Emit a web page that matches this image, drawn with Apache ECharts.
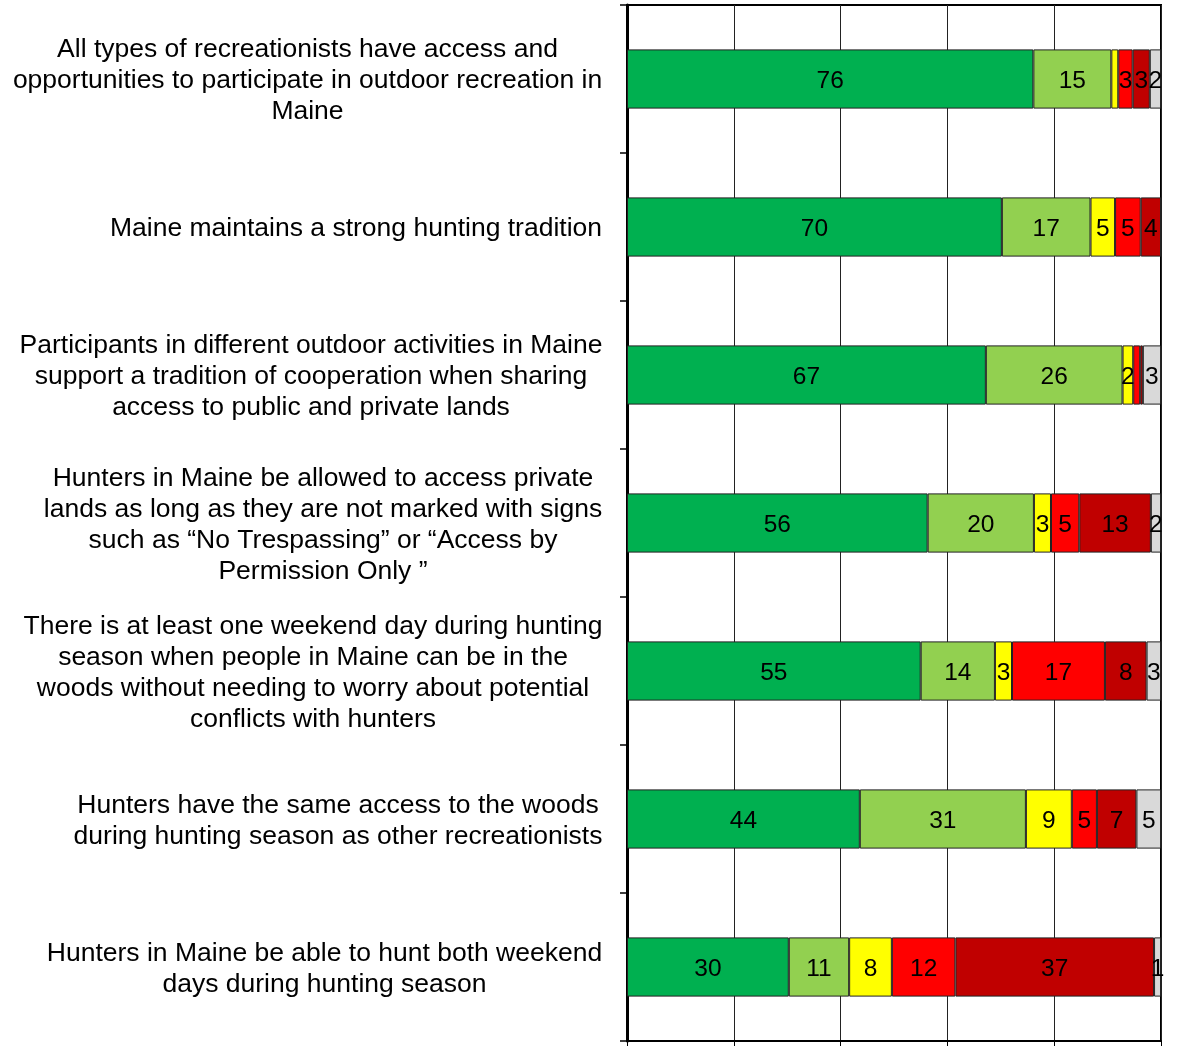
<!DOCTYPE html>
<html lang="en">
<head>
    <meta charset="UTF-8">
    <title>Maine recreation opinions</title>
    <style type="text/css">
        *{
            margin: 0px;
            padding: 0px;
        }
        body{
            background-color: #fff;
        }
        #chart{
            width: 1193px;
            height: 1046px;
        }
    </style>
</head>
<body>
<div id="chart"></div>
</body>
<script src="https://cdn.jsdelivr.net/npm/echarts@6/dist/echarts.min.js"></script>
<script type="text/javascript">
    var categories = [
        'All types of recreationists have access and\nopportunities to participate in outdoor recreation in\nMaine',
        'Maine maintains a strong hunting tradition',
        'Participants in different outdoor activities in Maine\nsupport a tradition of cooperation when sharing\naccess to public and private lands',
        'Hunters in Maine be allowed to access private\nlands as long as they are not marked with signs\nsuch as \u201cNo Trespassing\u201d or \u201cAccess by\nPermission Only \u201d',
        'There is at least one weekend day during hunting\nseason when people in Maine can be in the\nwoods without needing to worry about potential\nconflicts with hunters',
        'Hunters have the same access to the woods\nduring hunting season as other recreationists',
        'Hunters in Maine be able to hunt both weekend\ndays during hunting season'
    ];

    // percentages
    var stronglyAgree    = [76.1, 70.2, 67.2, 56.3, 55.0, 43.6, 30.3];
    var somewhatAgree    = [14.6, 16.6, 25.6, 19.9, 13.9, 31.1, 11.3];
    var neutral          = [1.3, 4.6, 2.0, 3.2, 3.2, 8.6, 8.0];
    var somewhatDisagree = [2.7, 4.8, 1.3, 5.3, 17.4, 4.7, 11.9];
    var stronglyDisagree = [3.2, 3.8, 0.5, 13.4, 7.8, 7.4, 37.2];
    var dontKnow         = [2.1, 0, 3.4, 1.9, 2.7, 4.6, 1.3];

    // [series, row] segments that carry no number in the original
    var unlabeled = [[2, 0], [5, 1], [3, 2], [4, 2]];

    var seriesNames = ['Strongly agree', 'Somewhat agree', 'Neutral', 'Somewhat disagree', 'Strongly disagree', "Don't know"];
    var seriesData = [stronglyAgree, somewhatAgree, neutral, somewhatDisagree, stronglyDisagree, dontKnow];
    var colors = ['#00B050', '#92D050', '#FFFF00', '#FF0000', '#C00000', '#D9D9D9'];

    var fontFamily = '"Liberation Sans", Arial, sans-serif';
    var catFontSize = 26.5;
    var barFontSize = 24.5;

    // widest line of each category label, so shorter lines can be centred under it
    var ctx = document.createElement('canvas').getContext('2d');
    ctx.font = catFontSize + 'px ' + fontFamily;
    var rich = {};
    categories.forEach(function (c, i) {
        var w = 0;
        c.split('\n').forEach(function (l) {
            w = Math.max(w, ctx.measureText(l).width);
        });
        rich['c' + i] = {
            width: Math.ceil(w) + 1,
            align: 'center',
            fontSize: catFontSize,
            fontFamily: fontFamily,
            color: '#000',
            lineHeight: 31
        };
    });

    var series = seriesData.map(function (arr, s) {
        return {
            name: seriesNames[s],
            type: 'bar',
            stack: 'total',
            barWidth: '40%',
            itemStyle: {
                color: colors[s],
                borderColor: '#222',
                borderWidth: 1
            },
            label: {
                show: true,
                position: 'inside',
                color: '#000',
                fontSize: barFontSize,
                fontFamily: fontFamily,
                offset: [0, 2],
                formatter: function (p) {
                    for (var k = 0; k < unlabeled.length; k++) {
                        if (unlabeled[k][0] === s && unlabeled[k][1] === p.dataIndex) return '';
                    }
                    return Math.round(p.value);
                }
            },
            emphasis: { disabled: true },
            data: arr
        };
    });

    var myChart = echarts.init(document.getElementById('chart'));
    myChart.setOption({
        animation: false,
        grid: {
            left: 627,
            right: 32,
            top: 5,
            bottom: 5,
            show: true,
            borderColor: '#000',
            borderWidth: 2,
            backgroundColor: '#fff'
        },
        xAxis: {
            type: 'value',
            min: 0,
            max: 100,
            interval: 20,
            axisLine: { show: true, lineStyle: { color: '#000', width: 2 } },
            axisTick: { show: true, length: 5, lineStyle: { color: '#000' } },
            axisLabel: { show: false },
            splitLine: { show: true, lineStyle: { color: '#222', width: 1 } }
        },
        yAxis: {
            type: 'category',
            inverse: true,
            data: categories,
            axisLine: { show: true, lineStyle: { color: '#000', width: 3 } },
            axisTick: { show: true, length: 7, lineStyle: { color: '#000', width: 1.5 } },
            axisLabel: {
                margin: 24,
                align: 'right',
                padding: [4, 0, 0, 0],
                formatter: function (value, idx) {
                    return value.split('\n').map(function (l) {
                        return '{c' + idx + '|' + l + '}';
                    }).join('\n');
                },
                rich: rich
            },
            splitLine: { show: false }
        },
        series: series
    });
</script>
</html>
